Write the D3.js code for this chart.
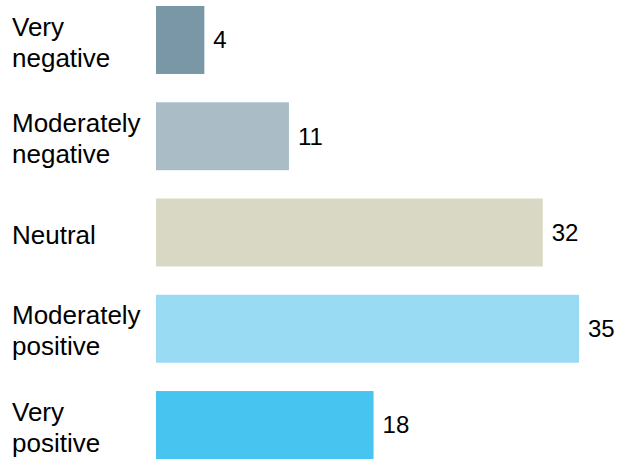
<!DOCTYPE html>
<html><head><meta charset="utf-8">
<script src="https://cdn.jsdelivr.net/npm/d3@7"></script>
<style>html,body{margin:0;padding:0;background:#fff;}svg{display:block;}</style>
</head><body>
<svg id="chart" width="619" height="459"></svg>
<script>
const categories = ["Very negative", "Moderately negative", "Neutral", "Moderately positive", "Very positive"];
const labelLines = [["Very", "negative"], ["Moderately", "negative"], ["Neutral"], ["Moderately", "positive"], ["Very", "positive"]];
const values = [4, 11, 32, 35, 18];
const colors = ["#7a97a8", "#aabdc7", "#d9d8c4", "#9adbf4", "#47c5f0"];

const svg = d3.select("#chart");
const x = d3.scaleLinear().domain([0, 35]).range([156, 579]);
const y = d3.scaleBand().domain(categories).range([6, 459]).paddingInner(0.294).paddingOuter(0);

svg.selectAll("rect.bar").data(categories).join("rect")
  .attr("class", "bar")
  .attr("x", x(0))
  .attr("y", d => y(d))
  .attr("width", (d, i) => x(values[i]) - x(0))
  .attr("height", y.bandwidth())
  .attr("fill", (d, i) => colors[i]);

svg.selectAll("text.val").data(categories).join("text")
  .attr("class", "val")
  .attr("x", (d, i) => x(values[i]) + 9)
  .attr("y", d => y(d) + y.bandwidth() / 2)
  .attr("dy", "0.35em")
  .attr("font-family", "Liberation Sans, Arial, sans-serif")
  .attr("font-size", 24)
  .attr("fill", "#000")
  .text((d, i) => values[i]);

const lineH = 31;
const lab = svg.selectAll("text.cat").data(categories).join("text")
  .attr("class", "cat")
  .attr("font-family", "Liberation Sans, Arial, sans-serif")
  .attr("font-size", 26)
  .attr("fill", "#000");
lab.each(function(d, i) {
  const lines = labelLines[i];
  const cy = y(d) + y.bandwidth() / 2 + 2;
  const t = d3.select(this);
  lines.forEach((ln, j) => {
    t.append("tspan")
      .attr("x", 12)
      .attr("y", cy + (j - (lines.length - 1) / 2) * lineH)
      .attr("dy", "0.35em")
      .text(ln);
  });
});
</script>
</body></html>
